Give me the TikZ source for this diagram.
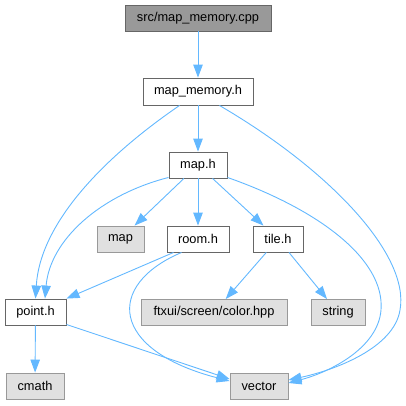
\documentclass[tikz,border=0pt]{standalone}
\usepackage{fontspec}
\setmainfont{Liberation Sans}
\usetikzlibrary{arrows.meta}
\definecolor{edgec}{HTML}{63B8FF}
\definecolor{extfill}{HTML}{E0E0E0}
\definecolor{extdraw}{HTML}{999999}
\definecolor{mainfill}{HTML}{999999}
\definecolor{boxdraw}{HTML}{666666}
\tikzset{
  box/.style={draw=boxdraw, fill=white, line width=0.9pt, minimum height=26pt, inner sep=0pt, font=\fontsize{12.8}{14}\selectfont, text=black},
  ext/.style={box, draw=extdraw, fill=extfill},
  mainbox/.style={box, fill=mainfill},
  dep/.style={draw=edgec, line width=0.9pt, -{Triangle[length=13pt,width=9.5pt]}},
}
\begin{document}
\begin{tikzpicture}[x=1pt,y=-1pt]
\useasboundingbox (0,0) rectangle (406,405);
\node[mainbox, minimum width=146pt] (cpp) at (198,18) {src/map\_memory.cpp};
\node[box, minimum width=110pt, minimum height=27pt] (mmh) at (198,91.5) {map\_memory.h};
\node[box, minimum width=58pt] (maph) at (198,165) {map.h};
\node[ext, minimum width=47pt] (map) at (120.5,239) {map};
\node[box, minimum width=62pt] (room) at (198,239) {room.h};
\node[box, minimum width=50pt] (tile) at (278,239) {tile.h};
\node[box, minimum width=61pt] (point) at (35.5,312) {point.h};
\node[ext, minimum width=146pt] (color) at (214,312.5) {ftxui/screen/color.hpp};
\node[ext, minimum width=54pt] (string) at (338,312.5) {string};
\node[ext, minimum width=58pt] (cmath) at (35,386) {cmath};
\node[ext, minimum width=58pt] (vector) at (259,386) {vector};

\draw[dep] (cpp) -- (mmh);
\draw[dep] (mmh) -- (maph);
\draw[dep] (mmh.south west) ++(37,0) .. controls (100,160) and (40,225) .. (point.north);
\draw[dep] (mmh.south east) ++(-34,0) .. controls (330,170) and (410,255) .. (400,310) .. controls (394,348) and (335,370) .. (vector.east |- 0,380);
\draw[dep] (maph.south west) ++(0,-1) .. controls (100,195) and (50,240) .. (point.north -| 45,0);
\draw[dep] (maph.south east) ++(0,-1) .. controls (320,210) and (385,260) .. (381,310) .. controls (378,348) and (330,372) .. (vector.east |- 0,383);
\draw[dep] (maph) -- (map);
\draw[dep] (maph) -- (room);
\draw[dep] (maph) -- (tile);
\draw[dep] (room.south west) ++(7,0) -- (point.north east);
\draw[dep] (room.south west) ++(15,0) .. controls (105,285) and (110,350) .. (vector.west |- 0,381);
\draw[dep] (tile) -- (color);
\draw[dep] (tile) -- (string);
\draw[dep] (point.south east) ++(0,-1) -- (vector.west |- 0,379);
\draw[dep] (point) -- (cmath);
\end{tikzpicture}
\end{document}
